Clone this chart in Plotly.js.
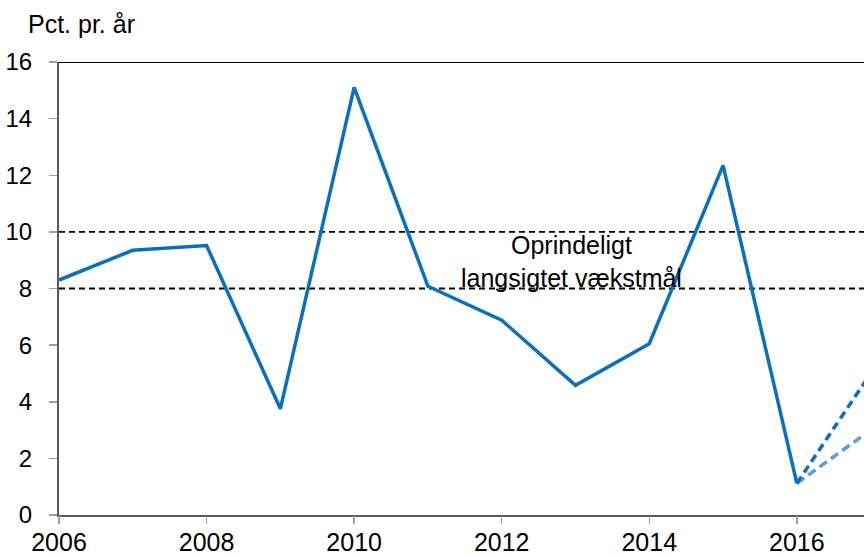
<!DOCTYPE html>
<html>
<head>
<meta charset="utf-8">
<script src="https://cdn.plot.ly/plotly-3.0.1.min.js"></script>
<style>html,body{margin:0;padding:0;background:#fff}#chart{width:864px;height:556px}</style>
</head>
<body>
<div id="chart"></div>
<script>
const years = [2006, 2007, 2008, 2009, 2010, 2011, 2012, 2013, 2014, 2015, 2016];
const growth = [8.3, 9.35, 9.52, 3.75, 15.1, 8.08, 6.88, 4.58, 6.05, 12.35, 1.12];
const forecastYears = [2016, 2017];
const forecastHigh = [1.12, 5.0];
const forecastLow = [1.12, 3.0];
const targetLow = 8;
const targetHigh = 10;
const xTicks = [2006, 2008, 2010, 2012, 2014, 2016, 2018];
const yTicks = [0, 2, 4, 6, 8, 10, 12, 14, 16];
const yTitle = "Pct. pr. år";
const noteText = "Oprindeligt<br>langsigtet vækstmål";

const font = "Liberation Sans, Arial, sans-serif";
const xRange = [2006, 2016.91];

const traces = [
  {x: forecastYears, y: forecastLow, mode: "lines", line: {color: "#5F9BD6", width: 3.5, dash: "9px,5px"}, hoverinfo: "skip"},
  {x: forecastYears, y: forecastHigh, mode: "lines", line: {color: "#0B6FC0", width: 3.5, dash: "8px,5px"}, hoverinfo: "skip"},
  {x: years, y: growth, mode: "lines", line: {color: "#0B6FC0", width: 3.5}, hoverinfo: "skip"},
  {x: xTicks, y: xTicks.map(() => null), xaxis: "x2", mode: "lines", hoverinfo: "skip", showlegend: false}
];

const layout = {
  width: 864, height: 556,
  margin: {l: 59, r: 0, t: 62, b: 41},
  paper_bgcolor: "#fff", plot_bgcolor: "#fff",
  showlegend: false,
  font: {family: font, color: "#000"},
  title: {text: yTitle, font: {size: 25, family: font, color: "#000"}, x: 28/864, xanchor: "left", xref: "container", y: 1 - 24/556, yanchor: "middle", yref: "container"},
  xaxis: {
    range: xRange, tickvals: xTicks, ticktext: xTicks.map(String),
    showgrid: false, zeroline: false, showline: true, linecolor: "#5a5a5a", linewidth: 2,
    ticks: "", tickfont: {size: 25, family: font, color: "#000"}, ticklabelstandoff: 4
  },
  xaxis2: {
    range: xRange, tickvals: xTicks, overlaying: "x", side: "bottom", anchor: "y",
    showgrid: false, zeroline: false, showline: false, showticklabels: false,
    ticks: "outside", ticklen: 8, tickcolor: "#a0a0a0", tickwidth: 1.5
  },
  yaxis: {
    range: [0, 16], tickvals: yTicks,
    showgrid: false, zeroline: false, showline: true, linecolor: "#5a5a5a", linewidth: 2,
    ticks: "outside", ticklen: 8, tickcolor: "#a0a0a0", tickwidth: 1.5,
    tickfont: {size: 24, family: font, color: "#000"}, ticklabelstandoff: 12
  },
  shapes: [
    {type: "line", xref: "paper", x0: 0, x1: 1, yref: "y", y0: targetHigh, y1: targetHigh, line: {color: "#000", width: 1.8, dash: "6px,4px"}, layer: "below"},
    {type: "line", xref: "paper", x0: 0, x1: 1, yref: "y", y0: targetLow, y1: targetLow, line: {color: "#000", width: 1.8, dash: "6px,4px"}, layer: "below"},
    {type: "line", xref: "paper", x0: 0, x1: 1, yref: "y", y0: 16, y1: 16, line: {color: "#000", width: 2}}
  ],
  annotations: [
    {x: 2012.95, y: 8.95, xref: "x", yref: "y", text: noteText, showarrow: false, font: {size: 25, family: font, color: "#000"}, xanchor: "center", yanchor: "middle", align: "center"}
  ]
};

Plotly.newPlot("chart", traces, layout, {staticPlot: true, displayModeBar: false});
</script>
</body>
</html>
